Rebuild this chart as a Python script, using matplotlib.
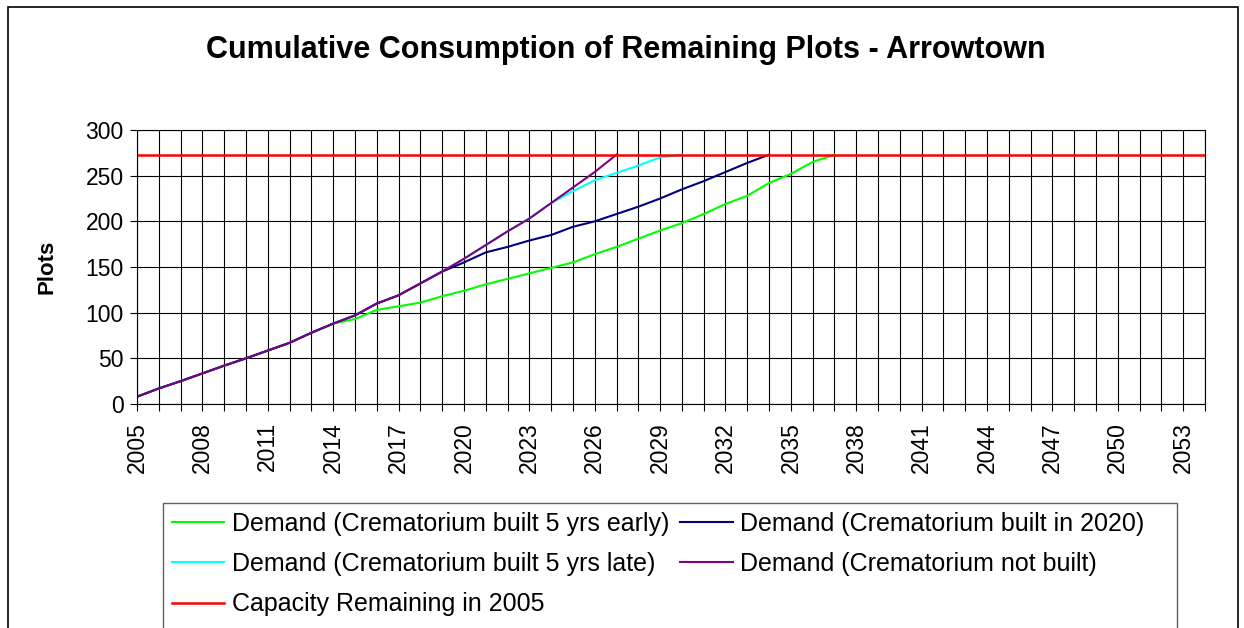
import matplotlib.pyplot as plt
from matplotlib.patches import Rectangle

plt.rcParams['font.family'] = ['Liberation Sans', 'DejaVu Sans']

# data
years_all = list(range(2005, 2055))
capacity = [273] * len(years_all)

base = [8, 17, 25, 33.5, 42, 50, 58.5, 67, 78, 88]  # 2005-2014, shared by all scenarios

not_built = base + [97, 110, 119, 132, 145, 159, 174, 189, 203, 220, 237, 254, 273]
early_5 = base + [93, 103, 107, 111, 118, 124, 131, 137, 143, 149, 155, 164, 172,
                  181, 190, 198, 208, 219, 228, 242, 252, 265, 273]
built_2020 = base + [97, 110, 119, 132, 145, 155, 166, 172, 179, 185, 194, 200, 208,
                     216, 225, 235, 244, 254, 264, 273]
late_5 = base + [97, 110, 119, 132, 145, 159, 174, 189, 203, 220, 233, 245, 253,
                 261, 270, 273]

def yrs(values):
    return years_all[:len(values)]

fig = plt.figure(figsize=(12.44, 6.28), dpi=100)
W, H = 1244, 628

# outer chart border
fig.patches.append(Rectangle((8 / W, -0.05), 1230 / W, 1 - 7 / H + 0.05,
                             transform=fig.transFigure, fill=False,
                             edgecolor='black', linewidth=1.2))

ax = fig.add_axes([137 / W, 1 - 404 / H, (1205 - 137) / W, (404 - 130) / H])

l_early, = ax.plot(yrs(early_5), early_5, color='#00FF00', lw=1.5,
                   label='Demand (Crematorium built 5 yrs early)')
l_late, = ax.plot(yrs(late_5), late_5, color='#00FFFF', lw=1.5,
                  label='Demand (Crematorium built 5 yrs late)')
l_2020, = ax.plot(yrs(built_2020), built_2020, color='#000080', lw=1.5,
                  label='Demand (Crematorium built in 2020)')
l_not, = ax.plot(yrs(not_built), not_built, color='#800080', lw=1.5,
                 label='Demand (Crematorium not built)')
l_cap, = ax.plot(years_all, capacity, color='#FF0000', lw=1.8,
                 label='Capacity Remaining in 2005')

ax.set_xlim(2005, 2054)
ax.set_ylim(0, 300)
ax.set_yticks(range(0, 301, 50))
ax.set_xticks(years_all)
ax.set_xticklabels([str(y) if (y - 2005) % 3 == 0 else '' for y in years_all],
                   rotation=90)
ax.tick_params(axis='both', direction='out', length=5, width=0.8,
               labelsize=16.5, colors='black')
ax.tick_params(axis='x', pad=8)
ax.tick_params(axis='y', pad=4.5)
ax.grid(True, color='black', linewidth=0.8)
ax.set_axisbelow(True)
for s in ax.spines.values():
    s.set_color('black')
    s.set_linewidth(0.8)

fig.text(626 / W, 1 - 50 / H, 'Cumulative Consumption of Remaining Plots - Arrowtown',
         ha='center', va='center', fontsize=22, fontweight='bold')
fig.text(47 / W, 1 - 267 / H, 'Plots', ha='center', va='center', rotation=90,
         fontsize=16, fontweight='bold')

# legend box drawn separately (wider than the entries, like the original)
fig.patches.append(Rectangle((163 / W, -0.05), (1177 - 163) / W, 1 - 503 / H + 0.05,
                             transform=fig.transFigure, fill=False,
                             edgecolor='#606060', linewidth=1.0))
leg = fig.legend(handles=[l_early, l_late, l_cap, l_2020, l_not], ncol=2,
                 loc='upper left', bbox_to_anchor=(163 / W, 1 - 503 / H),
                 fontsize=18, frameon=False, handlelength=2.1,
                 handletextpad=0.3, labelspacing=0.65, borderpad=0.35,
                 borderaxespad=0, columnspacing=0.45)

fig.savefig('out.png', dpi=100)
